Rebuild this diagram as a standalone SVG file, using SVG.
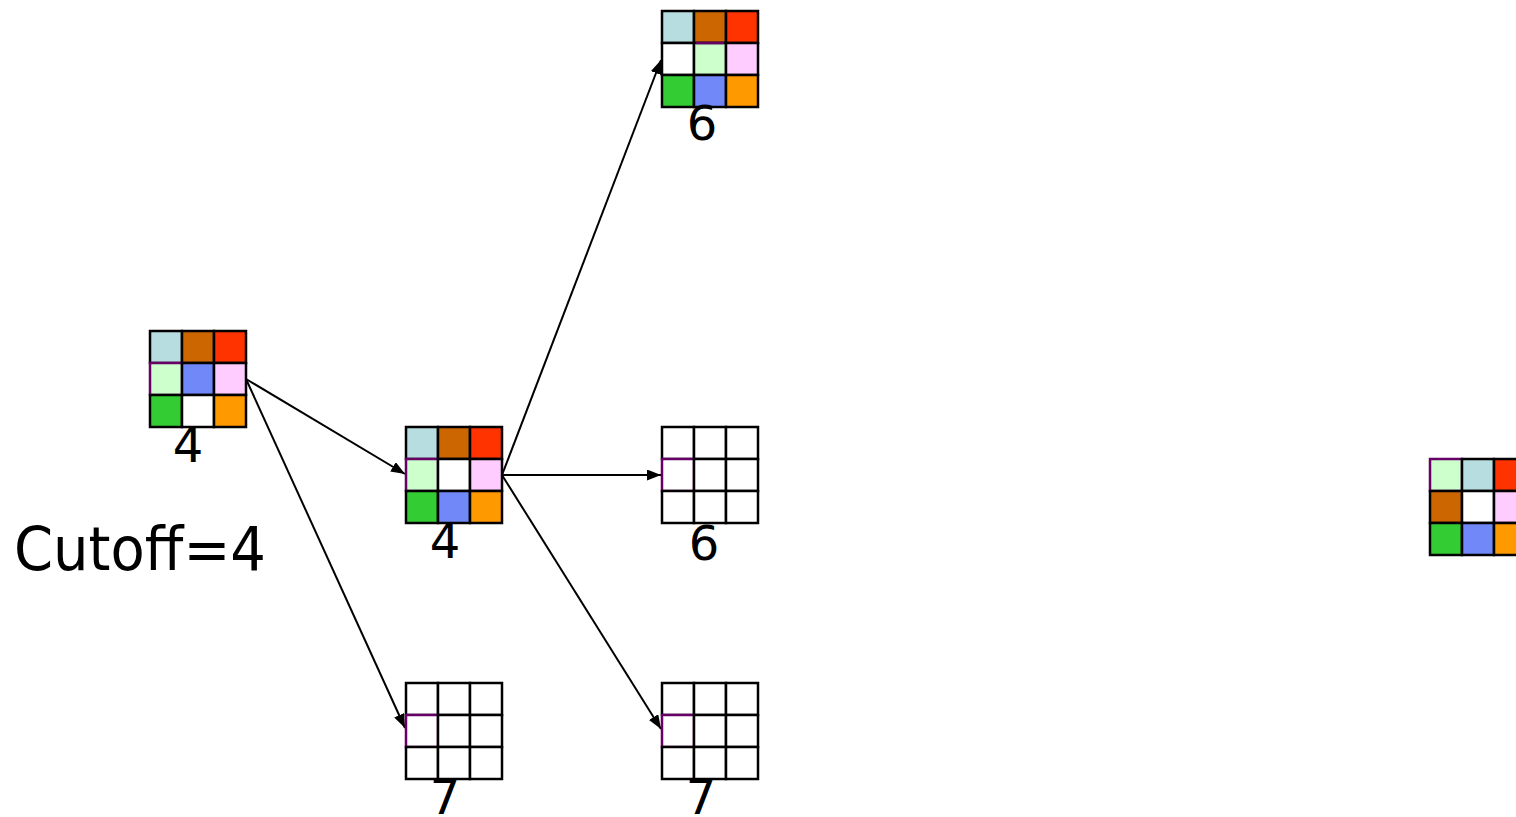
<svg xmlns="http://www.w3.org/2000/svg" width="1516" height="817" viewBox="0 0 1516 817">
<style>
.c{stroke:#000;stroke-width:2.5}
.p{stroke:#660066;stroke-width:2.5}
.w{fill:#fff}.lb{fill:#b8dde0}.br{fill:#cc6600}.rd{fill:#ff3300}.lg{fill:#ccffcc}.bl{fill:#7088f8}.pk{fill:#ffccff}.gr{fill:#33cc33}.or{fill:#ff9900}
text{font-family:"DejaVu Sans","Liberation Sans",sans-serif;fill:#000}
.n{font-size:48px;text-anchor:middle}
.e{stroke:#000;stroke-width:2;fill:none;marker-end:url(#a)}
</style>
<defs>
<marker id="a" markerWidth="14" markerHeight="11" refX="14" refY="5.5" orient="auto" markerUnits="userSpaceOnUse">
<path d="M0,0 L14,5.5 L0,11 z" fill="#000"/>
</marker>
</defs>
<rect width="1516" height="817" fill="#fff"/>
<g id="connectors">
<line class="e" x1="246" y1="379" x2="405" y2="474"/>
<line class="e" x1="246" y1="379" x2="405" y2="728"/>
<line class="e" x1="502" y1="475" x2="661" y2="60"/>
<line class="e" x1="502" y1="475" x2="661" y2="475"/>
<line class="e" x1="502" y1="475" x2="661" y2="729"/>
</g>
<g id="node1" transform="translate(150,331)">
<rect class="c lb" x="0" y="0" width="32" height="32"/><rect class="c br" x="32" y="0" width="32" height="32"/><rect class="c rd" x="64" y="0" width="32" height="32"/>
<rect class="p lg" x="0" y="32" width="32" height="32"/><rect class="c bl" x="32" y="32" width="32" height="32"/><rect class="c pk" x="64" y="32" width="32" height="32"/>
<rect class="c gr" x="0" y="64" width="32" height="32"/><rect class="c w" x="32" y="64" width="32" height="32"/><rect class="c or" x="64" y="64" width="32" height="32"/>
<text class="n" x="38" y="131">4</text>
</g>
<g id="node2" transform="translate(406,427)">
<rect class="c lb" x="0" y="0" width="32" height="32"/><rect class="c br" x="32" y="0" width="32" height="32"/><rect class="c rd" x="64" y="0" width="32" height="32"/>
<rect class="p lg" x="0" y="32" width="32" height="32"/><rect class="c w" x="32" y="32" width="32" height="32"/><rect class="c pk" x="64" y="32" width="32" height="32"/>
<rect class="c gr" x="0" y="64" width="32" height="32"/><rect class="c bl" x="32" y="64" width="32" height="32"/><rect class="c or" x="64" y="64" width="32" height="32"/>
<text class="n" x="39" y="131">4</text>
</g>
<g id="node3" transform="translate(662,11)">
<rect class="c lb" x="0" y="0" width="32" height="32"/><rect class="c br" x="32" y="0" width="32" height="32"/><rect class="c rd" x="64" y="0" width="32" height="32"/>
<rect class="c w" x="0" y="32" width="32" height="32"/><rect class="c lg" x="32" y="32" width="32" height="32"/><rect class="c pk" x="64" y="32" width="32" height="32"/>
<line class="p" x1="34" y1="32" x2="62" y2="32"/>
<rect class="c gr" x="0" y="64" width="32" height="32"/><rect class="c bl" x="32" y="64" width="32" height="32"/><rect class="c or" x="64" y="64" width="32" height="32"/>
<text class="n" x="40" y="129">6</text>
</g>
<g id="node4" transform="translate(662,427)">
<rect class="c w" x="0" y="0" width="32" height="32"/><rect class="c w" x="32" y="0" width="32" height="32"/><rect class="c w" x="64" y="0" width="32" height="32"/>
<rect class="p w" x="0" y="32" width="32" height="32"/><rect class="c w" x="32" y="32" width="32" height="32"/><rect class="c w" x="64" y="32" width="32" height="32"/>
<rect class="c w" x="0" y="64" width="32" height="32"/><rect class="c w" x="32" y="64" width="32" height="32"/><rect class="c w" x="64" y="64" width="32" height="32"/>
<text class="n" x="42" y="133">6</text>
</g>
<g id="node5" transform="translate(406,683)">
<rect class="c w" x="0" y="0" width="32" height="32"/><rect class="c w" x="32" y="0" width="32" height="32"/><rect class="c w" x="64" y="0" width="32" height="32"/>
<rect class="p w" x="0" y="32" width="32" height="32"/><rect class="c w" x="32" y="32" width="32" height="32"/><rect class="c w" x="64" y="32" width="32" height="32"/>
<rect class="c w" x="0" y="64" width="32" height="32"/><rect class="c w" x="32" y="64" width="32" height="32"/><rect class="c w" x="64" y="64" width="32" height="32"/>
<text class="n" x="39" y="131">7</text>
</g>
<g id="node6" transform="translate(662,683)">
<rect class="c w" x="0" y="0" width="32" height="32"/><rect class="c w" x="32" y="0" width="32" height="32"/><rect class="c w" x="64" y="0" width="32" height="32"/>
<rect class="p w" x="0" y="32" width="32" height="32"/><rect class="c w" x="32" y="32" width="32" height="32"/><rect class="c w" x="64" y="32" width="32" height="32"/>
<rect class="c w" x="0" y="64" width="32" height="32"/><rect class="c w" x="32" y="64" width="32" height="32"/><rect class="c w" x="64" y="64" width="32" height="32"/>
<text class="n" x="39" y="131">7</text>
</g>
<g id="node7" transform="translate(1430,459)">
<rect class="p lg" x="0" y="0" width="32" height="32"/><rect class="c lb" x="32" y="0" width="32" height="32"/><rect class="c rd" x="64" y="0" width="32" height="32"/>
<rect class="c br" x="0" y="32" width="32" height="32"/><rect class="c w" x="32" y="32" width="32" height="32"/><rect class="c pk" x="64" y="32" width="32" height="32"/>
<rect class="c gr" x="0" y="64" width="32" height="32"/><rect class="c bl" x="32" y="64" width="32" height="32"/><rect class="c or" x="64" y="64" width="32" height="32"/>
</g>
<g id="label">
<text x="14" y="570" font-size="61" textLength="252" lengthAdjust="spacingAndGlyphs">Cutoff=4</text>
</g>
</svg>
